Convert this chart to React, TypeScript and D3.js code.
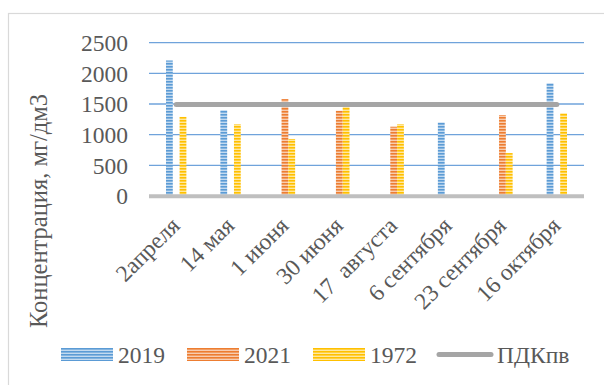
import React from "react";
import * as d3 from "d3";

// Sampling dates
const categories = [
  "2апреля",
  "14 мая",
  "1 июня",
  "30 июня",
  "17  августа",
  "6 сентября",
  "23 сентября",
  "16 октября",
];

// Concentrations, mg/dm3 (null = no sample)
const s2019: (number | null)[] = [2210, 1400, null, null, null, 1200, null, 1840];
const s2021: (number | null)[] = [null, null, 1580, 1390, 1130, null, 1320, null];
const s1972: (number | null)[] = [1290, 1170, 930, 1450, 1170, null, 700, 1350];
// Maximum permissible concentration
const pdk: number[] = [1500, 1500, 1500, 1500, 1500, 1500, 1500, 1500];

const yTicks = [0, 500, 1000, 1500, 2000, 2500];

const seriesNames = ["2019", "2021", "1972"];
const seriesValues = [s2019, s2021, s1972];
const pdkName = "ПДКпв";
const yTitle = "Концентрация, мг/дм3";

const palette = [
  { id: "pat2019", dark: "#5B9BD5", light: "#C3DAF0" },
  { id: "pat2021", dark: "#ED7D31", light: "#F8CDB0" },
  { id: "pat1972", dark: "#FFC000", light: "#FFE8A0" },
];

const FONT = "Liberation Serif";
const TEXT = "#595959";

export default function App() {
  const W = 604;
  const H = 385;
  const plot = { left: 149, right: 584, top: 42.7, bottom: 196 };

  const x = d3
    .scaleBand<string>()
    .domain(categories)
    .range([plot.left, plot.right])
    .paddingInner(0)
    .paddingOuter(0);

  const barW = x.bandwidth() * 0.125;
  const xSub = d3
    .scaleBand<string>()
    .domain(seriesNames)
    .range([-barW * 1.5, barW * 1.5]);

  const y = d3.scaleLinear().domain([0, 2500]).range([plot.bottom, plot.top]);

  const center = (c: string) => (x(c) ?? 0) + x.bandwidth() / 2;

  const pdkLine = d3
    .line<number>()
    .x((_, i) => center(categories[i]))
    .y((d) => y(d) + 0.6);

  const legendStep = 126;
  const legendX0 = 61;
  const legendY = 354.5;

  return (
    <svg
      width={W}
      height={H}
      style={{ position: "absolute", left: 0, top: 0, display: "block" }}
    >
      <defs>
        {palette.map((p) => (
          <pattern
            key={p.id}
            id={p.id}
            patternUnits="userSpaceOnUse"
            width={6}
            height={3}
          >
            <rect width={6} height={3} fill={p.light} />
            <rect width={6} height={1.6} y={0} fill={p.dark} />
          </pattern>
        ))}
      </defs>

      <rect x={0} y={0} width={W} height={H} fill="#fff" />
      <rect
        x={8.5}
        y={13.5}
        width={W}
        height={H}
        fill="#fff"
        stroke="#D9D9D9"
        strokeWidth={1.2}
      />

      {/* gridlines */}
      {yTicks
        .filter((t) => t > 0)
        .map((t) => (
          <line
            key={t}
            x1={plot.left}
            x2={plot.right}
            y1={y(t)}
            y2={y(t)}
            stroke="#6FA3DB"
            strokeWidth={1.3}
          />
        ))}

      {/* y tick labels */}
      {yTicks.map((t) => (
        <text
          key={t}
          x={128}
          y={y(t)}
          dy="0.35em"
          textAnchor="end"
          fontFamily={FONT}
          fontSize={23.5}
          fill={TEXT}
        >
          {t}
        </text>
      ))}

      {/* y title */}
      <text
        transform={`translate(47, 211) rotate(-90)`}
        textAnchor="middle"
        fontFamily={FONT}
        fontSize={24.5}
        fill={TEXT}
        style={{ whiteSpace: "pre" }}
      >
        {yTitle}
      </text>

      {/* bars */}
      {seriesValues.map((vals, si) =>
        vals.map((v, ci) =>
          v == null ? null : (
            <rect
              key={`${si}-${ci}`}
              x={center(categories[ci]) + (xSub(seriesNames[si]) ?? 0)}
              y={y(v)}
              width={xSub.bandwidth()}
              height={y(0) - y(v)}
              fill={`url(#${palette[si].id})`}
            />
          )
        )
      )}

      {/* category axis */}
      <line
        x1={plot.left}
        x2={plot.right}
        y1={y(0) + 0.3}
        y2={y(0) + 0.3}
        stroke="#BFBFBF"
        strokeWidth={4}
      />

      {/* limit line */}
      <path
        d={pdkLine(pdk) ?? ""}
        fill="none"
        stroke="#A5A5A5"
        strokeWidth={5}
        strokeLinecap="round"
      />

      {/* x labels */}
      {categories.map((c) => (
        <text
          key={c}
          transform={`translate(${center(c) + 5}, 227) rotate(-45)`}
          textAnchor="end"
          fontFamily={FONT}
          fontSize={23.5}
          fill={TEXT}
          style={{ whiteSpace: "pre" }}
        >
          {c}
        </text>
      ))}

      {/* legend */}
      {seriesNames.map((name, i) => {
        const lx = legendX0 + i * legendStep;
        return (
          <g key={name}>
            <rect
              x={lx}
              y={legendY - 6.5}
              width={52}
              height={13}
              fill={`url(#${palette[i].id})`}
            />
            <text
              x={lx + 57}
              y={legendY}
              dy="0.35em"
              fontFamily={FONT}
              fontSize={23.5}
              fill={TEXT}
            >
              {name}
            </text>
          </g>
        );
      })}
      <g>
        <line
          x1={legendX0 + 3 * legendStep}
          x2={legendX0 + 3 * legendStep + 52}
          y1={legendY}
          y2={legendY}
          stroke="#A5A5A5"
          strokeWidth={5}
          strokeLinecap="round"
        />
        <text
          x={legendX0 + 3 * legendStep + 58}
          y={legendY}
          dy="0.35em"
          fontFamily={FONT}
          fontSize={23.5}
          fill={TEXT}
        >
          {pdkName}
        </text>
      </g>
    </svg>
  );
}
